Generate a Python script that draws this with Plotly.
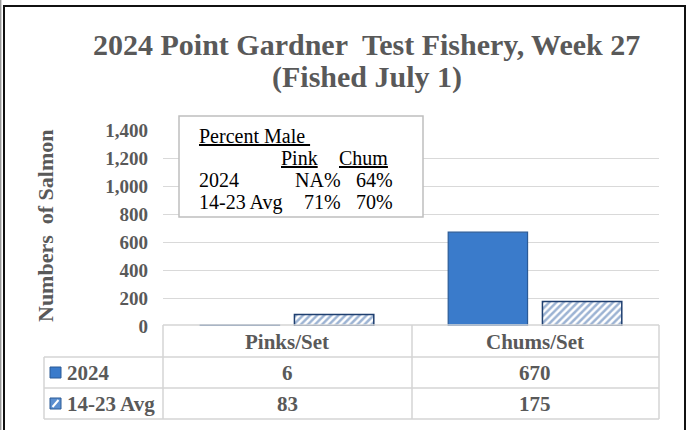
import plotly.graph_objects as go

W, H = 687, 430

categories = ["Pinks/Set", "Chums/Set"]
series_names = ["2024", "14-23 Avg"]
values_2024 = [6, 670]
values_avg = [83, 175]
y_ticks = [0, 200, 400, 600, 800, 1000, 1200, 1400]

pm_header = ["Pink", "Chum"]
pm_rows = ["2024", "14-23 Avg"]
pm_2024 = ["NA%", "64%"]
pm_avg = ["71%", "70%"]

SERIF = "Liberation Serif, Times New Roman, serif"
GREY = "#595959"
LINE = "#D4D4D4"


def px(x):
    return x / W


def py(y):
    return 1 - y / H


PL, PR, PT, PB = 163, 659, 130, 326

fig = go.Figure()
fig.add_trace(go.Bar(
    x=categories, y=values_2024, name=series_names[0],
    marker=dict(color="#3A7BCB", line=dict(color="#2A5A96", width=1.2)),
))
fig.add_trace(go.Bar(
    x=categories, y=values_avg, name=series_names[1],
    marker=dict(color="white", line=dict(color="#1F3F6F", width=1.5),
                pattern=dict(shape="/", fgcolor="#3A68A8", bgcolor="white",
                             size=5, solidity=0.5)),
))

fig.update_layout(
    width=W, height=H,
    margin=dict(l=0, r=0, t=0, b=0, autoexpand=False),
    paper_bgcolor="white", plot_bgcolor="white",
    showlegend=False,
    barmode="group", bargap=0.24, bargroupgap=0.158,
    xaxis=dict(domain=[px(PL), px(PR)], range=[-0.5, 1.5],
               showticklabels=False, showgrid=False, zeroline=False,
               showline=False, ticks=""),
    yaxis=dict(domain=[py(PB), py(PT)], range=[0, 1400],
               tickvals=y_ticks, tickformat=",",
               showgrid=True, gridcolor="#D9D9D9", gridwidth=1,
               zeroline=False, showline=False, ticks="",
               ticklabelstandoff=14,
               tickfont=dict(family=SERIF, size=19, color=GREY, weight="bold")),
    font=dict(family=SERIF),
)

shapes = []
ann = []


def text(x, y, s, font, xanchor="center", xref="paper", angle=0):
    ann.append(dict(x=x, y=py(y), xref=xref, yref="paper", xanchor=xanchor,
                    yanchor="middle", text=s, showarrow=False, font=font,
                    textangle=angle))


# Title
tfont = dict(size=30, color=GREY, family=SERIF)
text(px(367), 45, "<b>2024 Point Gardner  Test Fishery, Week 27</b>", tfont)
text(px(367), 77, "<b>(Fished July 1)</b>", tfont)

# Y axis title
text(px(45), 226, "<b>Numbers  of Salmon</b>",
     dict(size=22, color=GREY, family=SERIF), angle=-90)

# Percent male box
shapes.append(dict(type="rect", xref="paper", yref="paper",
                   x0=px(179), x1=px(423), y0=py(116), y1=py(217),
                   fillcolor="white", line=dict(color="#BFBFBF", width=1.5),
                   layer="above"))
bf = dict(size=20, color="black", family=SERIF)
text(px(197), 136, "<u>Percent Male </u>", bf, "left")
text(px(320), 158, "<u>" + pm_header[0] + "</u>", bf, "right")
text(px(390), 158, "<u>" + pm_header[1] + "</u>", bf, "right")
for i, (lab, rowvals) in enumerate(zip(pm_rows, [pm_2024, pm_avg])):
    yy = 180 + i * 22
    text(px(197), yy, lab, bf, "left")
    text(px(343), yy, rowvals[0], bf, "right")
    text(px(395), yy, rowvals[1], bf, "right")

# Data table
T0, R1, R2, T3 = 325, 357, 388, 419
TL, TC = 44, 412


def hline(y, x0, x1):
    shapes.append(dict(type="line", xref="paper", yref="paper",
                       x0=px(x0), x1=px(x1), y0=py(y), y1=py(y),
                       line=dict(color=LINE, width=1.5), layer="above"))


def vline(x, y0, y1):
    shapes.append(dict(type="line", xref="paper", yref="paper",
                       x0=px(x), x1=px(x), y0=py(y0), y1=py(y1),
                       line=dict(color=LINE, width=1.5), layer="above"))


hline(T0, PL, PR)
hline(R1, TL, PR)
hline(R2, TL, PR)
hline(T3, TL, PR)
vline(PL, T0, T3)
vline(TC, T0, T3)
vline(PR, T0, T3)
vline(TL, R1, T3)

tf = dict(size=21, color=GREY, family=SERIF)
for c in categories:
    text(c, 342, "<b>" + c + "</b>", tf, xref="x")
for c, v in zip(categories, values_2024):
    text(c, 373, "<b>" + f"{v:,}" + "</b>", tf, xref="x")
for c, v in zip(categories, values_avg):
    text(c, 404, "<b>" + f"{v:,}" + "</b>", tf, xref="x")

text(px(65), 373, "<b>" + series_names[0] + "</b>", tf, "left")
text(px(65), 404, "<b>" + series_names[1] + "</b>", tf, "left")

# legend keys
shapes.append(dict(type="rect", xref="paper", yref="paper",
                   x0=px(50), x1=px(61), y0=py(378), y1=py(367),
                   fillcolor="#3A7BCB", line=dict(color="#2A5A96", width=1),
                   layer="above"))
shapes.append(dict(type="rect", xref="paper", yref="paper",
                   x0=px(50), x1=px(61), y0=py(409), y1=py(398),
                   fillcolor="#5B8FD0", line=dict(color="#2A5A96", width=1),
                   layer="above"))
shapes.append(dict(type="line", xref="paper", yref="paper",
                   x0=px(52.5), x1=px(58.5), y0=py(407), y1=py(400),
                   line=dict(color="white", width=2), layer="above"))

# outer frame
shapes.append(dict(type="line", xref="paper", yref="paper",
                   x0=px(0.7), x1=px(0.7), y0=0, y1=1,
                   line=dict(color="#9A9A9A", width=1.4), layer="above"))
shapes.append(dict(type="path", xref="paper", yref="paper",
                   path=f"M {px(4)} 0 L {px(4)} {py(6)} L {px(685)} {py(6)} L {px(685)} 0",
                   line=dict(color="#111111", width=2), layer="above"))

fig.update_layout(shapes=shapes, annotations=ann)
fig.write_html("out.html",
               config={"displayModeBar": False},
               post_script="document.body.style.margin='0';document.body.style.overflow='hidden';")
